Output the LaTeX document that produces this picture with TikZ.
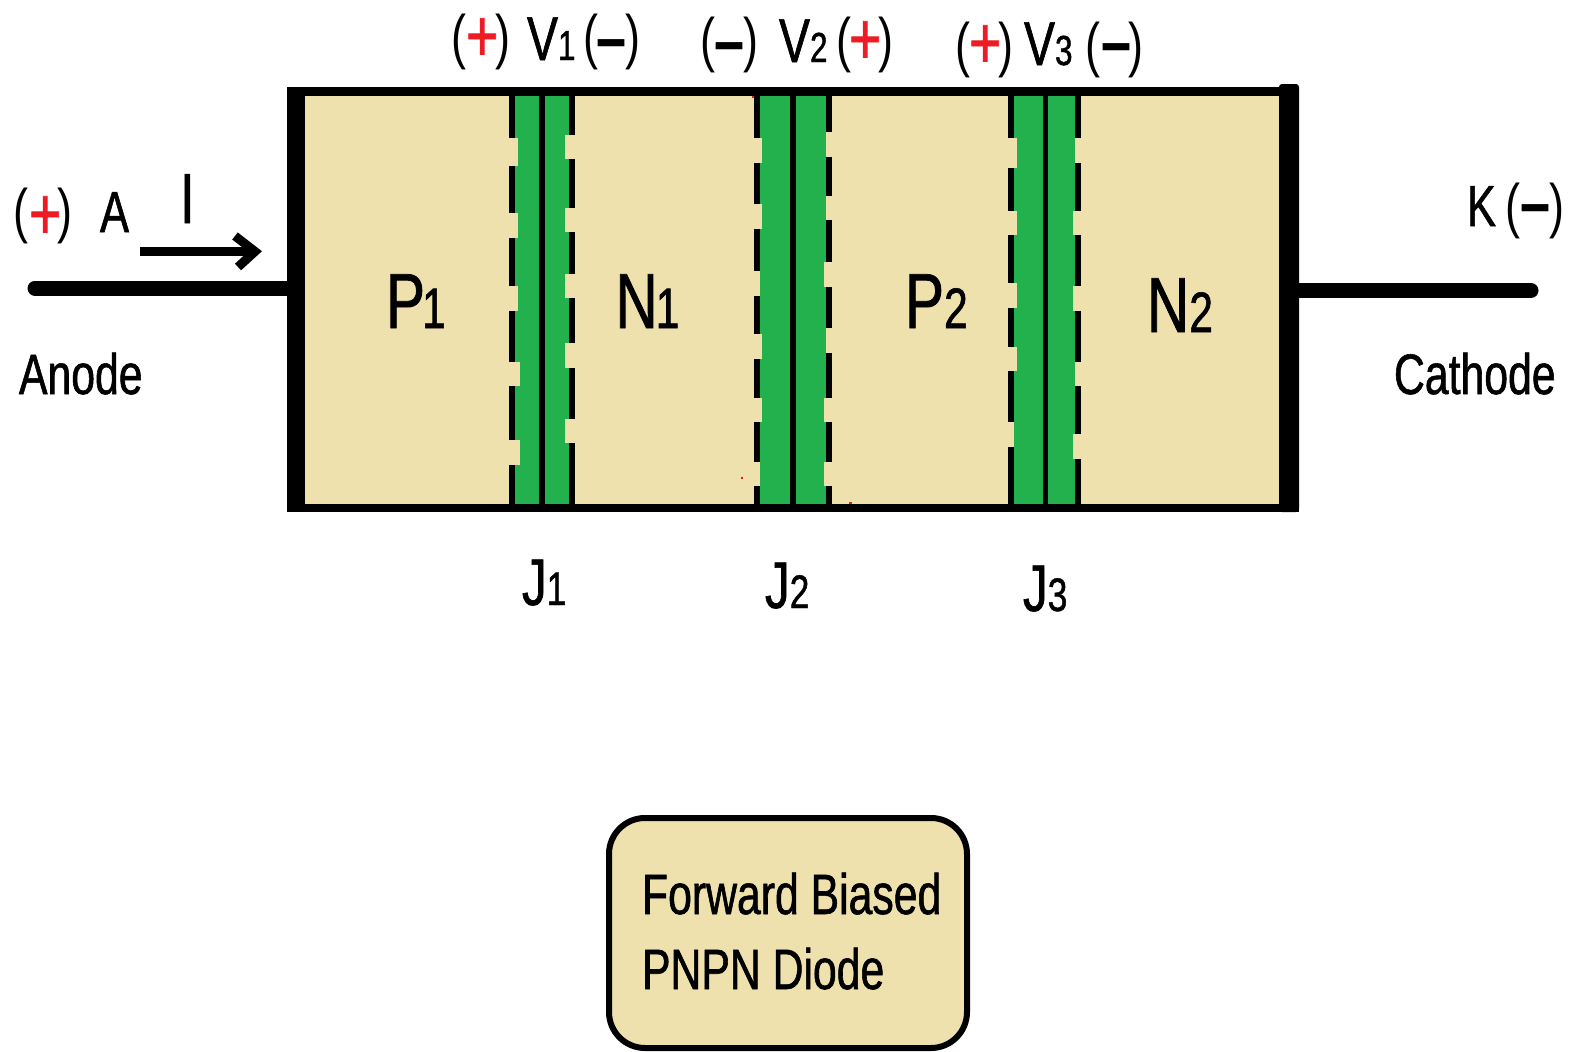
\documentclass[tikz,border=0pt]{standalone}
\usepackage{fontspec}
\newfontfamily\labf[FakeStretch=.75,FakeBold=1]{Liberation Sans}
\newfontfamily\labm[FakeStretch=.75]{Liberation Sans}
\definecolor{sand}{HTML}{EEE1AE}
\definecolor{jgreen}{HTML}{22B14C}
\definecolor{signred}{HTML}{ED1C24}
\newcommand{\fs}[1]{\fontsize{#1}{#1}\selectfont}
\newcommand{\subbed}[4]{{\labf\fs{#1}#2\fs{#3}#4}}
\newcommand{\junction}[5]{%
  \fill[jgreen] (#1,96) rectangle (#2,504);
  \fill[black] (#3-2.75,96) rectangle (#3+2.75,504);
  \foreach \a/\b in {#4}{
    \fill[black] (#1-6,\a) rectangle (#1,\b);
  }
  \foreach \a/\b in {#5}{
    \fill[black] (#2,\a) rectangle (#2+6,\b);
  }
}
\newcommand{\notches}[3]{%
  \foreach \a/\b in {#3}{\fill[sand] (#1,\a) rectangle (#1+#2,\b);}
}
\tikzset{
  txt/.style={anchor=base west,inner sep=0pt,outer sep=0pt,text=black},
  wire/.style={line width=15pt,line cap=round},
  body/.style={rectangle,fill=sand,inner sep=0pt,minimum width=1012pt,minimum height=425pt},
  note/.style={rectangle,draw=black,fill=sand,line width=6pt,rounded corners=36pt,inner sep=0pt,minimum width=358pt,minimum height=230pt},
  plusm/.style={txt,text=signred,font=\labf\fs{74}},
  minusm/.style={txt,font=\labm\bfseries\fs{72}},
  paren/.style={txt,font=\labm\fs{60}},
}
\begin{document}
\begin{tikzpicture}[x=1pt,y=-1pt]
\useasboundingbox (0,0) rectangle (1574,1052);
\fill[white] (0,0) rectangle (1574,1052);

\node[body] (bodyn) at (793,299.5) {};

\junction{515}{569}{542}{96/138,166/213,238/286,311/362,386/440,465/504}{96/135,159/208,232/274,298/343,368/419,443/504}
\notches{515}{2.5}{138/166,213/238,286/311}
\notches{515}{4.5}{362/386,440/465}
\notches{569}{-4}{135/159,208/232,274/298,343/368,419/443}
\junction{760}{826}{793}{96/138,163/204,229/271,296/334,359/398,422/462,486/504}{96/132,157/196,220/262,287/328,353/398,422/462,486/504}
\notches{760}{2}{138/163,204/229,334/359,398/422}
\notches{826}{-2}{262/287,398/422,462/486}
\junction{1014}{1075}{1045.5}{96/138,168/211,235/283,308/347,371/422,447/504}{96/138,163/211,235/286,311/362,386/434,459/504}
\notches{1014}{2.5}{138/168,211/235,283/308,347/371}
\notches{1075}{-2}{211/235,286/311,434/459}

\fill[black] (287,87) rectangle (1299,96);
\fill[black] (287,504) rectangle (1299,512);
\fill[black] (287,87) rectangle (305,512);
\fill[black,rounded corners=3pt] (1279,84) rectangle (1299,512);
\fill[signred] (741,477) rectangle (743,479);
\fill[signred] (849,502) rectangle (852,504);
\fill[signred] (752,96) rectangle (754,98);

\coordinate (aend) at (35,288);
\coordinate (kend) at (1531,290.5);
\draw[wire] (aend) -- (aend -| bodyn.west);
\draw[wire] (kend) -- (kend -| bodyn.east);

\coordinate (arra) at (140,251.5);
\coordinate (arrb) at (256,251.5);
\draw[line width=9pt] (arra) -- (arrb);
\coordinate (ch1) at (235,236);
\coordinate (ch2) at (255,251.5);
\coordinate (ch3) at (238,267);
\draw[line width=9pt] (ch1) -- (ch2) -- (ch3);

\node[txt] (p1) at (386,328) {\subbed{78}{P\kern-3pt}{57}{1}};
\node[txt] (n1) at (615.5,328) {\subbed{78}{N\kern-2pt}{57}{1}};
\node[txt] (p2) at (905,328) {\subbed{78}{P}{57}{2}};
\node[txt] (n2) at (1147,332) {\subbed{78}{N}{57}{2}};

\node[paren] (v1a) at (451,57) {(};
\node[plusm] (v1b) at (466,61) {+\kern-9pt};
\node[paren] (v1c) at (495,57) {)};
\node[txt] (v1) at (527,60) {\subbed{62}{V}{42}{1}\kern-4pt};
\node[paren] (v1d) at (583,57) {(};
\node[minusm] (v1e) at (596,62) {–};
\node[paren] (v1f) at (625,57) {)};

\node[paren] (v2a) at (700,60) {(};
\node[minusm] (v2e) at (714,65) {–};
\node[paren] (v2c) at (743,60) {)};
\node[txt] (v2) at (779,62) {\subbed{62}{V}{42}{2}\kern-4pt};
\node[paren] (v2d) at (836,60) {(};
\node[plusm] (v2b) at (849,64) {+\kern-9pt};
\node[paren] (v2f) at (878,60) {)};

\node[paren] (v3a) at (955,65) {(};
\node[plusm] (v3b) at (969,68) {+\kern-9pt};
\node[paren] (v3c) at (998,65) {)};
\node[txt] (v3) at (1024,65) {\subbed{62}{V}{42}{3}};
\node[paren] (v3d) at (1085,65) {(};
\node[minusm] (v3e) at (1101,66) {–};
\node[paren] (v3f) at (1128,65) {)};

\node[paren] (aa) at (13,231) {(};
\node[plusm] (ab) at (29,239) {+\kern-9pt};
\node[paren] (ac) at (57,231) {)};
\node[txt,font=\labf\fs{58}] (al) at (100,232) {A};
\node[txt,font=\labf\fs{71}] (il) at (180,223) {I};
\node[txt,font=\labf\fs{57}] (an) at (19,394) {Anode};

\node[txt,font=\labf\fs{58}] (kl) at (1467,226) {K};
\node[paren] (ka) at (1505,226) {(};
\node[minusm] (kb) at (1520,227) {–};
\node[paren] (kc) at (1549,226) {)};
\node[txt,font=\labf\fs{57}] (ca) at (1394,394) {Cathode};

\node[txt] (j1) at (522,605) {\subbed{66}{J}{47}{1}};
\node[txt] (j2) at (765,608) {\subbed{66}{J}{47}{2}};
\node[txt] (j3) at (1023,611) {\subbed{66}{J}{47}{3}};

\node[note] (noten) at (788,933) {};
\node[txt,font=\labf\fs{57}] (nt1) at (642,914) {Forward Biased};
\node[txt,font=\labf\fs{57}] (nt2) at (642,989) {PNPN Diode};
\end{tikzpicture}
\end{document}
